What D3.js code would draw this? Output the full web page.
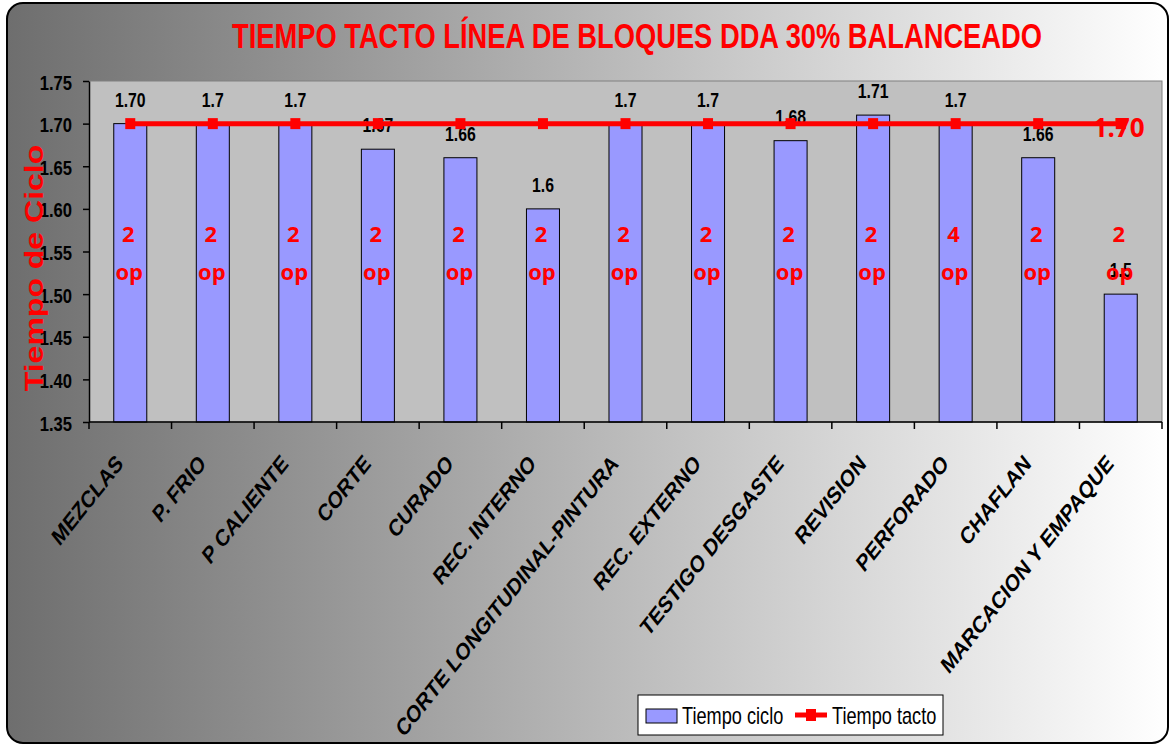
<!DOCTYPE html>
<html>
<head>
<meta charset="utf-8">
<script src="https://cdn.jsdelivr.net/npm/d3@7"></script>
<style>
  body { margin: 0; background: #fff; }
  svg { display: block; }
</style>
</head>
<body>
<div id="chart"></div>
<script>
"use strict";

// chart values
const categories = ['MEZCLAS', 'P. FRIO', 'P CALIENTE', 'CORTE', 'CURADO', 'REC. INTERNO',
    'CORTE LONGITUDINAL-PINTURA', 'REC. EXTERNO', 'TESTIGO DESGASTE', 'REVISION',
    'PERFORADO', 'CHAFLAN', 'MARCACION Y EMPAQUE'];
const cicloValues = [1.70, 1.70, 1.70, 1.67, 1.66, 1.60, 1.70, 1.70, 1.68, 1.71, 1.70, 1.66, 1.50];
const cicloLabels = ['1.70', '1.7', '1.7', '1.67', '1.66', '1.6', '1.7', '1.7', '1.68', '1.71', '1.7', '1.66', '1.5'];
const tactoValues = [1.70, 1.70, 1.70, 1.70, 1.70, 1.70, 1.70, 1.70, 1.70, 1.70, 1.70, 1.70, 1.70];
const tactoLabel = '1.70';
const operarios = [2, 2, 2, 2, 2, 2, 2, 2, 2, 2, 4, 2, 2];
const yTicks = [1.35, 1.40, 1.45, 1.50, 1.55, 1.60, 1.65, 1.70, 1.75];

const W = 1171, H = 744;
const SX = 0.79; // picture is squeezed horizontally
const squeeze = (x, y, rot) => `translate(${x},${y}) scale(${SX},1)` + (rot ? ` rotate(${rot})` : '');

const svg = d3.select('#chart').append('svg').attr('width', W).attr('height', H);

// background gradient
const grad = svg.append('defs').append('linearGradient').attr('id', 'bg')
    .attr('x1', '0%').attr('x2', '100%').attr('y1', '0%').attr('y2', '0%');
grad.append('stop').attr('offset', '0%').attr('stop-color', '#6e6e6e');
grad.append('stop').attr('offset', '100%').attr('stop-color', '#ffffff');

svg.append('rect').attr('x', 7).attr('y', 3).attr('width', 1161).attr('height', 740)
   .attr('rx', 16).attr('fill', 'url(#bg)').attr('stroke', '#000').attr('stroke-width', 2);

const plot = { left: 89, right: 1162, top: 81, bottom: 422 };

const x = d3.scaleBand().domain(categories).range([plot.left, plot.right]);
const y = d3.scaleLinear().domain([1.35, 1.75]).range([plot.bottom, plot.top]);
const barW = x.step() / 2.5;
const cx = d => x(d) + x.step() / 2;

// plot area
svg.append('rect').attr('x', plot.left).attr('y', plot.top)
   .attr('width', plot.right - plot.left).attr('height', plot.bottom - plot.top)
   .attr('fill', '#c0c0c0').attr('stroke', '#808080').attr('stroke-width', 1);

// title
svg.append('text').attr('transform', squeeze(637, 48))
   .attr('text-anchor', 'middle').attr('font-family', 'Liberation Sans, Arial, sans-serif')
   .attr('font-weight', 'bold').attr('font-size', 35).attr('fill', '#ff0000')
   .attr('textLength', 810 / SX).attr('lengthAdjust', 'spacingAndGlyphs')
   .text('TIEMPO TACTO LÍNEA DE BLOQUES DDA 30% BALANCEADO');

// bars
svg.selectAll('.bar').data(categories).enter().append('rect')
   .attr('class', 'bar')
   .attr('x', d => cx(d) - barW / 2)
   .attr('y', (d, i) => y(cicloValues[i]))
   .attr('width', barW)
   .attr('height', (d, i) => y(1.35) - y(cicloValues[i]))
   .attr('fill', '#9999ff').attr('stroke', '#000').attr('stroke-width', 1);

// y axis
const yAxis = svg.append('g').attr('transform', `translate(${plot.left},0)`)
   .call(d3.axisLeft(y).tickValues(yTicks).tickSize(6).tickSizeOuter(0).tickFormat(d3.format('.2f')));
yAxis.select('.domain').attr('stroke', '#000').attr('stroke-width', 1.5);
yAxis.selectAll('line').attr('stroke', '#000').attr('stroke-width', 1.5);
yAxis.selectAll('text')
   .attr('x', null).attr('dy', null)
   .attr('transform', squeeze(-17, 8))
   .attr('font-family', 'Liberation Sans, Arial, sans-serif')
   .attr('font-weight', 'bold').attr('font-size', 21).attr('fill', '#000');

// x axis line with ticks at category boundaries
svg.append('line').attr('x1', plot.left).attr('x2', plot.right)
   .attr('y1', plot.bottom).attr('y2', plot.bottom)
   .attr('stroke', '#000').attr('stroke-width', 1.5);
const bounds = categories.map(d => x(d)).concat([plot.right]);
svg.selectAll('.xtick').data(bounds).enter().append('line')
   .attr('x1', d => d).attr('x2', d => d)
   .attr('y1', plot.bottom).attr('y2', plot.bottom + 7)
   .attr('stroke', '#000').attr('stroke-width', 1.5);

svg.selectAll('.xlab').data(categories).enter().append('text')
   .attr('transform', d => squeeze(cx(d) - 6, 465, -45))
   .attr('text-anchor', 'end')
   .attr('font-family', 'Liberation Sans, Arial, sans-serif')
   .attr('font-weight', 'bold').attr('font-size', 24)
   .attr('fill', '#000')
   .text(d => d);

// y axis title
svg.append('text').attr('transform', squeeze(43, 268, -90))
   .attr('text-anchor', 'middle').attr('font-family', 'Liberation Sans, Arial, sans-serif')
   .attr('font-weight', 'bold').attr('font-size', 32).attr('fill', '#ff0000')
   .text('Tiempo de Ciclo');

// bar value labels
svg.selectAll('.vlab').data(categories).enter().append('text')
   .attr('transform', (d, i) => squeeze(cx(d), y(cicloValues[i]) - 17))
   .attr('text-anchor', 'middle').attr('font-family', 'Liberation Sans, Arial, sans-serif')
   .attr('font-weight', 'bold').attr('font-size', 20).attr('fill', '#000')
   .text((d, i) => cicloLabels[i]);

// operator labels
const opG = svg.selectAll('.op').data(categories).enter().append('text')
   .attr('text-anchor', 'middle').attr('font-family', 'Open Sans, sans-serif')
   .attr('font-weight', 'bold').attr('font-size', 22).attr('fill', '#ff0000');
opG.append('tspan').attr('x', d => cx(d) - 2).attr('y', y(1.561)).text((d, i) => operarios[i]);
opG.append('tspan').attr('x', d => cx(d) - 1).attr('y', y(1.561) + 38).text('op');

// tacto line
const line = d3.line().x((d, i) => cx(categories[i])).y(d => y(d));
svg.append('path').datum(tactoValues).attr('d', line)
   .attr('fill', 'none').attr('stroke', '#ff0000').attr('stroke-width', 5);
svg.selectAll('.mk').data(tactoValues).enter().append('rect')
   .attr('x', (d, i) => cx(categories[i]) - 5).attr('y', d => y(d) - 5.5)
   .attr('width', 10).attr('height', 11).attr('fill', '#ff0000');

const last = categories.length - 1;
svg.append('text').attr('x', cx(categories[last]) - 28).attr('y', y(tactoValues[last]) + 13)
   .attr('font-family', 'Open Sans, sans-serif').attr('font-weight', 'bold')
   .attr('font-size', 26).attr('fill', '#ff0000').text(tactoLabel);

// legend
const lg = svg.append('g').attr('transform', 'translate(638,695)');
lg.append('rect').attr('width', 305).attr('height', 40).attr('fill', '#fff')
  .attr('stroke', '#000').attr('stroke-width', 1);
lg.append('rect').attr('x', 8).attr('y', 14).attr('width', 31).attr('height', 14)
  .attr('fill', '#9999ff').attr('stroke', '#000').attr('stroke-width', 1);
lg.append('text').attr('transform', squeeze(44, 29))
  .attr('font-family', 'Liberation Sans, Arial, sans-serif').attr('font-size', 23).attr('fill', '#000')
  .text('Tiempo ciclo');
lg.append('line').attr('x1', 157).attr('x2', 189).attr('y1', 20).attr('y2', 20)
  .attr('stroke', '#ff0000').attr('stroke-width', 5);
lg.append('rect').attr('x', 168).attr('y', 14).attr('width', 10).attr('height', 12).attr('fill', '#ff0000');
lg.append('text').attr('transform', squeeze(194, 29))
  .attr('font-family', 'Liberation Sans, Arial, sans-serif').attr('font-size', 23).attr('fill', '#000')
  .text('Tiempo tacto');
</script>
</body>
</html>
